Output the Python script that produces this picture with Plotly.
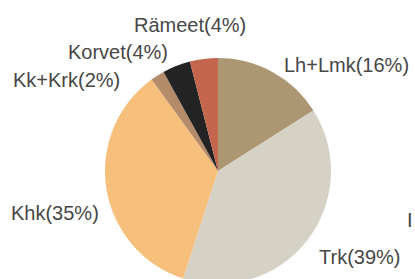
import plotly.graph_objects as go

labels = ["Lh+Lmk", "Trk", "Khk", "Kk+Krk", "Korvet", "Rämeet"]
values = [16, 39, 35, 2, 4, 4]
colors = ["#ad9672", "#d5d2c5", "#f6c07c", "#b58c6a", "#232323", "#c4654e"]

# label anchor positions (pixels, left edge / vertical middle)
label_px = [(282, 65), (317, 257), (9, 213), (11, 80), (66, 52), (132, 25)]

W, H = 415, 284  # figure slightly taller than the 279px view so the pie bottom is cropped

fig = go.Figure(go.Pie(
    labels=labels,
    values=values,
    marker=dict(colors=colors, line=dict(width=0)),
    sort=False,
    direction="clockwise",
    rotation=0,
    textinfo="none",
    hoverinfo="label+percent",
    showlegend=False,
    domain=dict(x=[105 / W, 331 / W], y=[0, 226 / H]),
))

FONT = dict(family="Liberation Sans, Arial, sans-serif", size=20, color="#474747")

for name, v, (px, py) in zip(labels, values, label_px):
    fig.add_annotation(
        x=px / W, y=1 - py / H, xref="paper", yref="paper",
        text=f"{name}({v}%)", showarrow=False,
        xanchor="left", yanchor="middle", font=FONT,
    )

fig.add_annotation(
    x=1, y=1 - 220 / H, xref="paper", yref="paper",
    text="I", showarrow=False, xanchor="right", yanchor="middle", font=FONT,
)

fig.update_layout(
    width=W, height=H,
    margin=dict(l=0, r=0, t=0, b=0),
    paper_bgcolor="white", plot_bgcolor="white",
)

fig.write_html(
    "out.html",
    config={"displayModeBar": False},
    post_script="document.body.style.margin='0';document.body.style.overflow='hidden';",
)
